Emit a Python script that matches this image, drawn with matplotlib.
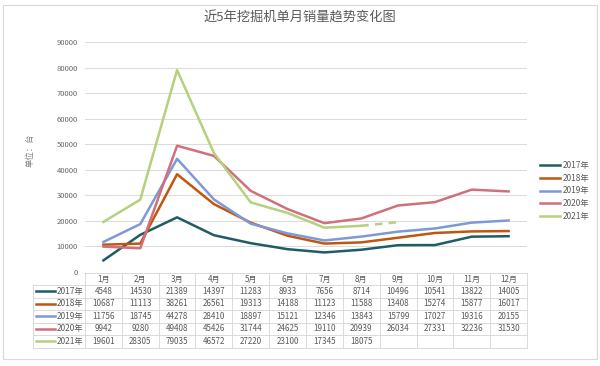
import matplotlib
matplotlib.use('Agg')
import matplotlib.pyplot as plt
from matplotlib.transforms import blended_transform_factory
from matplotlib.patches import Rectangle

plt.rcParams['font.family'] = ['Noto Sans CJK SC', 'DejaVu Sans']

###DATA###
months = ['1月', '2月', '3月', '4月', '5月', '6月', '7月', '8月', '9月', '10月', '11月', '12月']
years = ['2017年', '2018年', '2019年', '2020年', '2021年']
s2017 = [4548, 14530, 21389, 14397, 11283, 8933, 7656, 8714, 10496, 10541, 13822, 14005]
s2018 = [10687, 11113, 38261, 26561, 19313, 14188, 11123, 11588, 13408, 15274, 15877, 16017]
s2019 = [11756, 18745, 44278, 28410, 18897, 15121, 12346, 13843, 15799, 17027, 19316, 20155]
s2020 = [9942, 9280, 49408, 45426, 31744, 24625, 19110, 20939, 26034, 27331, 32236, 31530]
s2021 = [19601, 28305, 79035, 46572, 27220, 23100, 17345, 18075]
s2021_trend = [18075, 19500]   # dashed part, 8月 -> 9月
yticks = [0, 10000, 20000, 30000, 40000, 50000, 60000, 70000, 80000, 90000]
colors = ['#1f5d66', '#c0570f', '#7f99d6', '#d0707a', '#b5d07e']

series = [s2017, s2018, s2019, s2020, s2021]

###PLOT###
fig = plt.figure(figsize=(6, 3.66), dpi=100)
W, H = 600, 366
# axes from px x 85..527, y 42..272
ax = fig.add_axes([85 / W, (H - 272) / H, 442 / W, 230 / H])

x = list(range(12))
for s, c, lab in zip(series, colors, years):
    ax.plot(x[:len(s)], s, color=c, lw=1.8, label=lab, solid_joinstyle='round')
ax.plot([7, 8], s2021_trend, color=colors[4], lw=1.8, ls=(0, (3, 2.5)))

ax.set_xlim(-0.5, 11.5)
ax.set_ylim(0, 90000)
ax.set_yticks(yticks)
ax.set_yticklabels([str(v) for v in yticks], fontsize=5.5, color='#666666')
ax.tick_params(axis='y', length=0, pad=5)
ax.set_xticks([])
ax.grid(axis='y', color='#dcdcdc', lw=0.8)
ax.set_axisbelow(True)
for sp in ax.spines.values():
    sp.set_visible(False)

fig.text(300 / W, 1 - 18 / H, '近5年挖掘机单月销量趋势变化图', ha='center', va='center',
         fontsize=9.5, color='#595959')
fig.text(30 / W, 1 - 150 / H, '单位：台', rotation=90, ha='center', va='center',
         fontsize=6, color='#808080')

# legend
ax.legend(loc='center left', bbox_to_anchor=(537 / W, 1 - 191 / H), bbox_transform=fig.transFigure,
          frameon=False, fontsize=6, labelcolor='#595959', handlelength=2.4, handletextpad=0.3,
          labelspacing=0.45, borderaxespad=0)

# table under the axis
tr = blended_transform_factory(ax.transData, ax.transAxes)
def ay(py):
    return (272 - py) / 230.0

row_edges = [273, 285, 297.5, 310, 322.5, 335, 347.5]
lab_left = -0.5 - 52 / 36.8
grid_kw = dict(color='#d4d4d4', lw=0.6, transform=tr, clip_on=False)
# horizontal lines
ax.plot([-0.5, 11.5], [ay(row_edges[0])] * 2, **grid_kw)
for py in row_edges[1:]:
    ax.plot([lab_left, 11.5], [ay(py)] * 2, **grid_kw)
# vertical lines
ax.plot([lab_left, lab_left], [ay(row_edges[1]), ay(row_edges[-1])], **grid_kw)
for i in range(13):
    ax.plot([i - 0.5, i - 0.5], [ay(row_edges[0]), ay(row_edges[-1])], **grid_kw)

txt_kw = dict(transform=tr, ha='center', va='center', fontsize=5.8, color='#595959', clip_on=False)
for i, m in enumerate(months):
    ax.text(i, ay((row_edges[0] + row_edges[1]) / 2), m, **txt_kw)
for r, (s, c, lab) in enumerate(zip(series, colors, years)):
    yc = ay((row_edges[r + 1] + row_edges[r + 2]) / 2)
    for i, v in enumerate(s):
        ax.text(i, yc, str(v), **txt_kw)
    ax.plot([lab_left + 3 / 36.8, lab_left + 22 / 36.8], [yc, yc], color=c, lw=1.8,
            transform=tr, clip_on=False)
    ax.text(lab_left + 24 / 36.8, yc, lab, transform=tr, ha='left', va='center',
            fontsize=6, color='#595959', clip_on=False)

# outer frame
fig.patches.append(Rectangle((3 / W, 1 - 359 / H), 594 / W, 354 / H, transform=fig.transFigure,
                             fill=False, edgecolor='#d9d9d9', lw=0.8))

fig.savefig('out.png', dpi=100)
